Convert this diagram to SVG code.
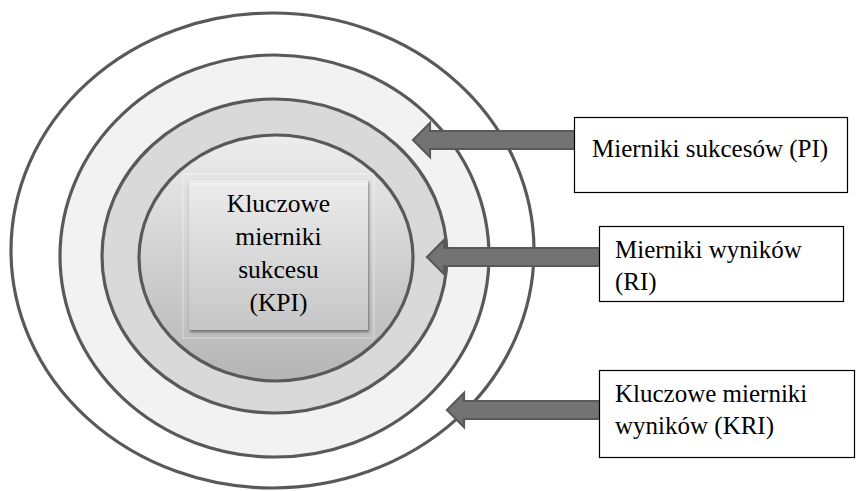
<svg xmlns="http://www.w3.org/2000/svg" width="856" height="491" viewBox="0 0 856 491">
<style>
.ring{stroke:#595959;stroke-width:3.2}
.arrow{fill:#737373;stroke:#595959;stroke-width:2.2;stroke-linejoin:miter}
.box{fill:#ffffff;stroke:#000000;stroke-width:1.2}
text{font-family:"Liberation Serif","Times New Roman",serif;font-size:25px;fill:#000}
.center{text-anchor:middle;font-size:25.5px}
</style>
<defs>
<linearGradient id="gInner" x1="0" y1="0" x2="0" y2="1">
<stop offset="0" stop-color="#ededed"/>
<stop offset="1" stop-color="#b5b5b5"/>
</linearGradient>
<linearGradient id="gBox" x1="0" y1="0" x2="0" y2="1">
<stop offset="0" stop-color="#ececec"/>
<stop offset="1" stop-color="#c6c6c6"/>
</linearGradient>
<filter id="shadow" x="-10%" y="-10%" width="125%" height="125%">
<feGaussianBlur in="SourceAlpha" stdDeviation="1.5"/>
<feOffset dx="1" dy="2" result="b"/>
<feComponentTransfer><feFuncA type="linear" slope="0.45"/></feComponentTransfer>
<feMerge><feMergeNode/><feMergeNode in="SourceGraphic"/></feMerge>
</filter>
</defs>
<rect width="856" height="491" fill="#ffffff"/>
<g id="rings">
<ellipse id="ring-outer" class="ring" cx="272.5" cy="250.5" rx="261.5" ry="237.5" fill="#ffffff"/>
<ellipse id="ring-2" class="ring" cx="274.5" cy="256" rx="214.5" ry="201" fill="#f2f2f2"/>
<ellipse id="ring-3" class="ring" cx="274.5" cy="256" rx="172.5" ry="157" fill="#d9d9d9"/>
<ellipse id="ring-inner" class="ring" cx="276" cy="258" rx="137" ry="123" fill="url(#gInner)"/>
</g>
<g id="kpi">
<rect x="183" y="174" width="191" height="164" fill="none" stroke="#ffffff" stroke-opacity="0.45" stroke-width="1"/>
<rect x="189" y="180" width="179" height="150" fill="url(#gBox)" filter="url(#shadow)"/>
<line x1="189" y1="184" x2="368" y2="184" stroke="#ffffff" stroke-opacity="0.6" stroke-width="1"/>
<text class="center" x="278.5" y="212">Kluczowe</text>
<text class="center" x="278.5" y="245">mierniki</text>
<text class="center" x="278.5" y="278">sukcesu</text>
<text class="center" x="278.5" y="311">(KPI)</text>
</g>
<g id="connectors">
<path class="arrow" d="M413,140 L430,123 L430,131 L575,131 L575,149 L430,149 L430,157 Z"/>
<path class="arrow" d="M427,257 L444,240 L444,248 L600,248 L600,266 L444,266 L444,274 Z"/>
<path class="arrow" d="M447,410 L464,393 L464,401 L600,401 L600,419 L464,419 L464,427 Z"/>
</g>
<g id="pi">
<rect class="box" x="574.5" y="117.5" width="273" height="75"/>
<text x="592" y="157">Mierniki sukcesów (PI)</text>
</g>
<g id="ri">
<rect class="box" x="599.5" y="226.5" width="244" height="75"/>
<text x="615" y="258">Mierniki wyników</text>
<text x="615" y="290">(RI)</text>
</g>
<g id="kri">
<rect class="box" x="599.5" y="370.5" width="255" height="87"/>
<text x="615" y="402">Kluczowe mierniki</text>
<text x="615" y="434">wyników (KRI)</text>
</g>
</svg>
